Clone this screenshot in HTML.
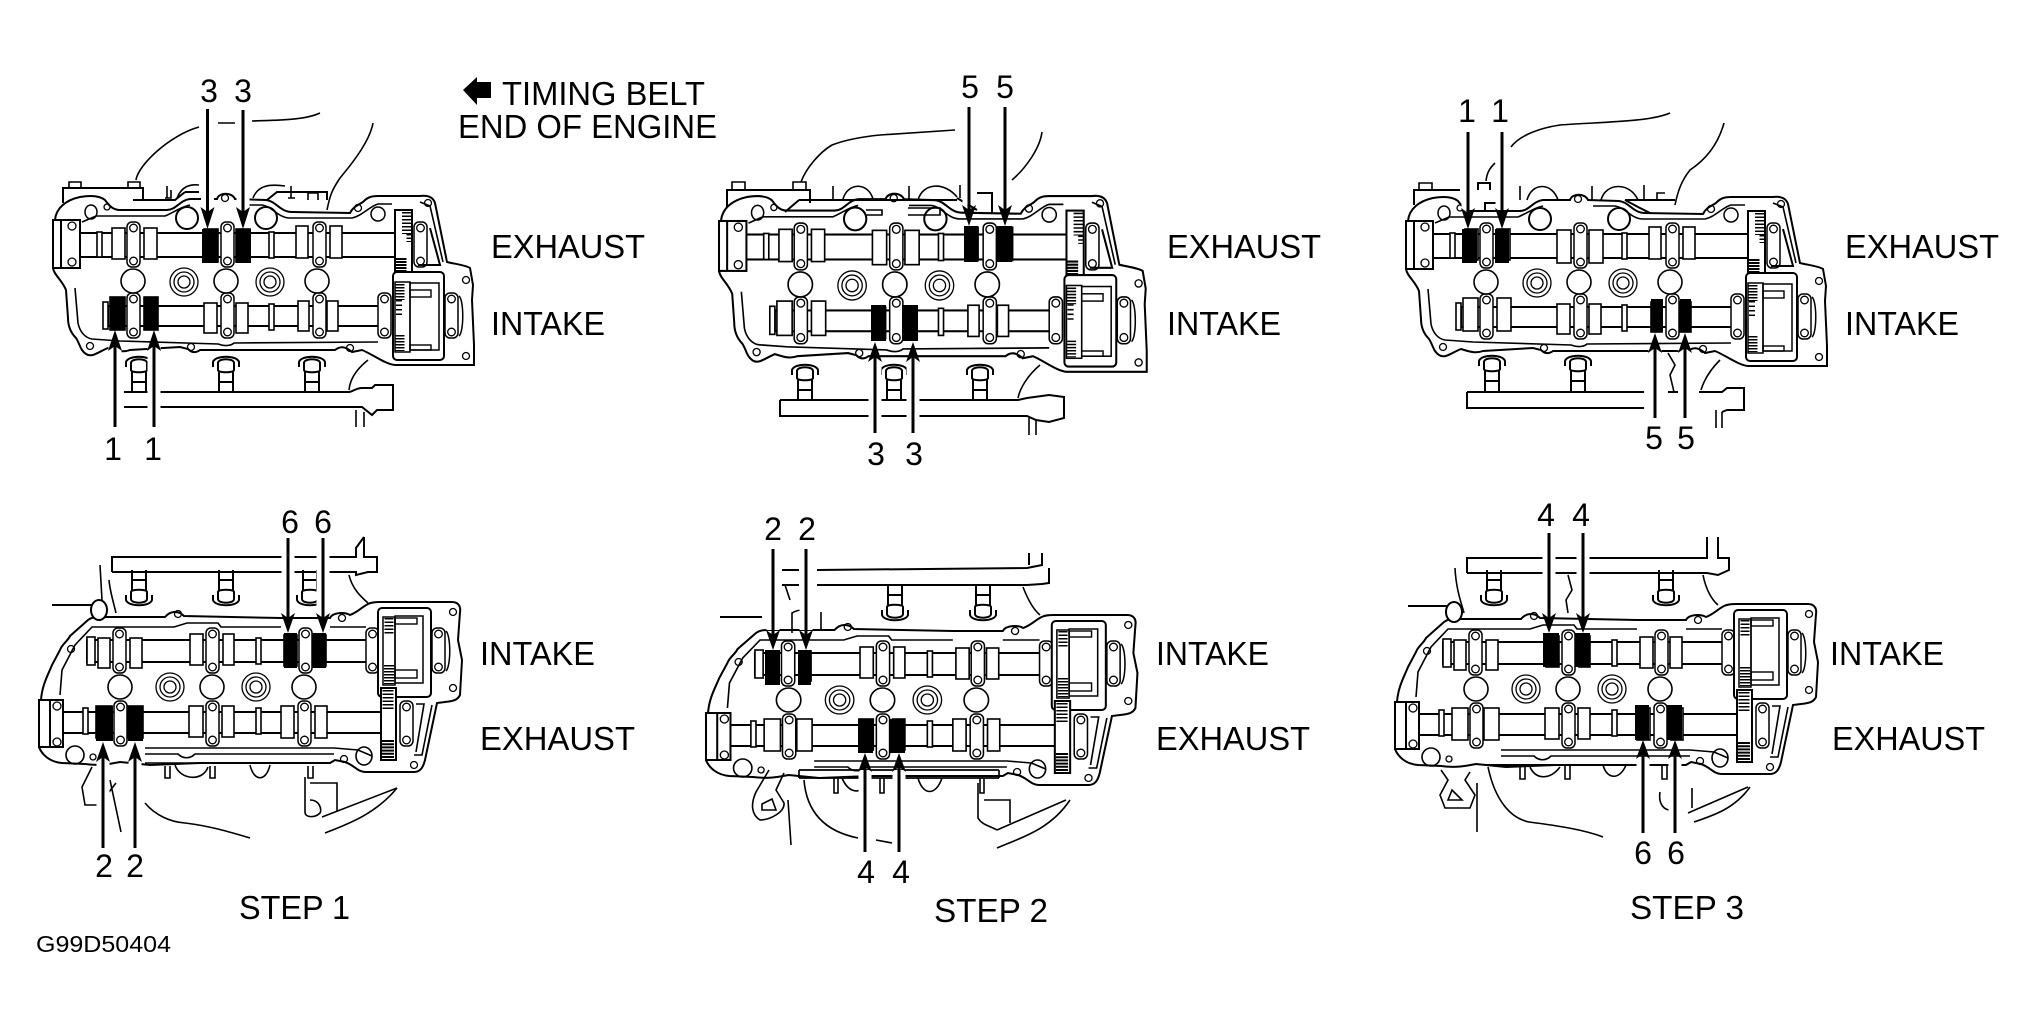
<!DOCTYPE html>
<html><head><meta charset="utf-8"><style>
html,body{margin:0;padding:0;background:#fff}
svg{display:block}
text{font-family:"Liberation Sans",sans-serif;fill:#000;stroke:none}
.d{font-size:32px;text-anchor:middle}
.l{font-size:33px}
.w{fill:#fff}
.k{fill:#000;stroke:none}
</style></head><body>
<svg xmlns="http://www.w3.org/2000/svg" width="2036" height="1028" viewBox="0 0 2036 1028" fill="none" stroke="#000" stroke-width="2">
<rect width="2036" height="1028" fill="#fff" stroke="none"/>
<defs>
<g id="cap" stroke-width="1.5"><rect class="w" x="0" y="0" width="13" height="45" rx="5"/><circle class="w" cx="6.5" cy="6" r="3.8" stroke-width="1.3"/><circle class="w" cx="6.5" cy="39" r="3.8" stroke-width="1.3"/></g>
<g id="conc"><circle r="14" stroke-width="1.3"/><circle r="10" stroke-width="1.3"/><circle r="6" stroke-width="1.3"/></g>
<g id="post"><path d="M-3 12V7C-1 0 21 0 23 7V12"/><path class="w" d="M2 8C2 3 18 3 18 8V15C18 18 2 18 2 15Z"/><path d="M3 17V37M17 17V37M3 27H17"/></g>
<g id="tg">
<path d="M55 220C56 208 66 200 80 197C92 195 100 196 105 200C110 207 114 210 120 210H167C176 210 180 200 190 199H217C219 192 232 192 235 199L266 200C276 201 280 212 292 212L350 213C354 205 360 205 364 201C368 197 372 196 378 196H420C428 195 433 197 435 203L447 262C455 264 465 265 470 268L473 285L472 300L474 345V365H395C385 364 372 354 362 350L352 352C345 346 340 346 335 350L200 350C196 353 192 353 188 349L180 347L130 350C122 353 115 350 108 348C98 352 92 358 86 354C80 350 80 344 76 338C70 332 68 325 68 318L66 290C62 280 54 275 53 268"/>
<path d="M82 222L96 216L165 216C175 212 180 207 190 205M240 205H262C272 206 278 218 290 218H352C362 216 370 206 378 204H392M420 202L430 206L443 262M75 288L78 323C80 333 86 338 92 339L120 341L218 344C226 347 232 345 234 343L378 342" stroke-width="1.6"/>
<ellipse cx="91" cy="212" rx="6" ry="7" stroke-width="1.5"/><ellipse cx="187" cy="218" rx="11" ry="11"/><ellipse cx="266" cy="218" rx="11" ry="11"/><ellipse cx="378" cy="214" rx="7" ry="7" stroke-width="1.5"/>
<circle cx="107" cy="207" r="3" stroke-width="1.3"/><circle cx="225" cy="198" r="3.5" stroke-width="1.3"/><circle cx="358" cy="208" r="3.5" stroke-width="1.3"/><circle cx="428" cy="203" r="3.5" stroke-width="1.3"/><circle cx="466" cy="280" r="3.5" stroke-width="1.3"/><circle cx="466" cy="356" r="3.5" stroke-width="1.3"/><circle cx="90" cy="346" r="3.5" stroke-width="1.3"/><circle cx="191" cy="347" r="3.5" stroke-width="1.3"/><circle cx="350" cy="348" r="3.5" stroke-width="1.3"/>
<rect class="w" x="78" y="233" width="318" height="24"/>
<rect class="w" x="108" y="306" width="272" height="20"/>
<rect class="w" x="53" y="220" width="27" height="48"/><path d="M61 220V268"/><circle class="w" cx="72" cy="226" r="4" stroke-width="1.3"/><circle class="w" cx="72" cy="262" r="4" stroke-width="1.3"/>
<g stroke-width="1.6">
<rect class="w" x="97" y="232" width="5" height="25"/><rect class="w" x="112" y="228" width="13" height="31"/><rect class="w" x="144" y="228" width="13" height="31"/><rect class="w" x="204" y="229" width="14" height="33"/><rect class="w" x="236" y="229" width="14" height="33"/><rect class="w" x="269" y="232" width="5" height="26"/><rect class="w" x="296" y="226" width="12" height="32"/><rect class="w" x="330" y="226" width="12" height="32"/>
<rect class="w" x="103" y="302" width="5" height="27"/><rect class="w" x="110" y="297" width="15" height="33"/><rect class="w" x="144" y="297" width="14" height="33"/><rect class="w" x="204" y="303" width="13" height="30"/><rect class="w" x="236" y="303" width="12" height="30"/><rect class="w" x="269" y="304" width="5" height="26"/><rect class="w" x="298" y="301" width="11" height="30"/><rect class="w" x="327" y="301" width="11" height="30"/>
</g>
<use href="#cap" x="127" y="222"/><use href="#cap" x="221" y="222"/><use href="#cap" x="313" y="222"/>
<use href="#cap" x="127" y="293"/><use href="#cap" x="221" y="293"/><use href="#cap" x="313" y="293"/><use href="#cap" x="378" y="293"/>
<circle class="w" cx="133" cy="281" r="12" stroke-width="1.6"/><circle class="w" cx="226" cy="281" r="12" stroke-width="1.6"/><circle class="w" cx="317" cy="281" r="12" stroke-width="1.6"/>
<use href="#conc" x="184" y="282"/><use href="#conc" x="270" y="282"/>
<rect class="w" x="395" y="210" width="17" height="70"/>
<line x1="407" y1="212" x2="407" y2="234" stroke-width="10" stroke-dasharray="1.5 2"/><line x1="409" y1="234" x2="409" y2="242" stroke-width="5" stroke-dasharray="1.5 2"/><line x1="401" y1="258" x2="401" y2="279" stroke-width="11" stroke-dasharray="2 1"/>
<use href="#cap" x="414" y="222"/><path d="M430 228L440 265H418"/>
<rect class="w" x="393" y="272" width="51" height="88" rx="4"/>
<rect class="w" x="395" y="282" width="15" height="70" stroke-width="1.5"/><rect x="410" y="283" width="29" height="67" stroke-width="1.5"/><rect x="410" y="290" width="21" height="7" stroke-width="1.4"/><rect x="410" y="345" width="21" height="5" stroke-width="1.4"/>
<line x1="400" y1="284" x2="400" y2="300" stroke-width="9" stroke-dasharray="1.5 1.5"/><line x1="399" y1="300" x2="399" y2="318" stroke-width="6" stroke-dasharray="1.5 3"/><line x1="400" y1="335" x2="400" y2="351" stroke-width="9" stroke-dasharray="1.5 1.5"/>
<use href="#cap" x="445" y="293"/><path d="M459 296C464 300 464 332 459 336" stroke-width="1.5"/>
</g>
<g id="tb">
<path d="M41 700C42 685 48 675 52 665L60 650C62 644 67 642 70 636L88 620C92 617 96 617 100 617H165C170 611 178 610 184 616L281 618H330C333 612 345 612 350 615C358 612 362 607 368 604C372 602 376 602 380 602H452C458 602 461 606 460 612L458 640L462 660L460 695C457 701 452 701 445 702L437 703L425 760C423 768 420 772 414 772H365C358 772 354 765 345 762L335 760L330 763H200L150 765L120 762C110 764 100 766 85 764L62 763C50 762 42 755 39 747"/>
<path d="M60 695L62 670L75 645L92 627H174L187 623H218L221 627H281M330 627H366M145 748H334L358 750L372 756M145 754H178C183 759 190 759 195 754H334M414 755H422L432 705" stroke-width="1.6"/>
<ellipse cx="75" cy="755" rx="9" ry="9" stroke-width="1.6"/><ellipse cx="364" cy="756" rx="8" ry="9" stroke-width="1.6"/>
<circle cx="71" cy="649" r="3.5" stroke-width="1.3"/><circle cx="178" cy="614" r="3.5" stroke-width="1.3"/><circle cx="342" cy="618" r="3.5" stroke-width="1.3"/><circle cx="453" cy="612" r="3.5" stroke-width="1.3"/><circle cx="453" cy="688" r="3.5" stroke-width="1.3"/><circle cx="93" cy="757" r="3" stroke-width="1.3"/><circle cx="344" cy="759" r="3.5" stroke-width="1.3"/><circle cx="414" cy="765" r="3.5" stroke-width="1.3"/>
<rect class="w" x="87" y="640" width="280" height="22"/>
<rect class="w" x="63" y="712" width="320" height="21"/>
<rect class="w" x="39" y="700" width="24" height="47"/><path d="M50 700V747"/><circle class="w" cx="57" cy="706" r="4" stroke-width="1.3"/><circle class="w" cx="57" cy="742" r="4" stroke-width="1.3"/>
<g stroke-width="1.6">
<rect class="w" x="87" y="637" width="8" height="28"/><rect class="w" x="98" y="638" width="12" height="30"/><rect class="w" x="130" y="638" width="12" height="30"/><rect class="w" x="190" y="634" width="13" height="31"/><rect class="w" x="223" y="634" width="11" height="31"/><rect class="w" x="256" y="638" width="5" height="26"/><rect class="w" x="284" y="635" width="13" height="31"/><rect class="w" x="314" y="635" width="12" height="31"/>
<rect class="w" x="83" y="708" width="5" height="26"/><rect class="w" x="96" y="706" width="16" height="32"/><rect class="w" x="128" y="706" width="15" height="32"/><rect class="w" x="189" y="706" width="14" height="31"/><rect class="w" x="222" y="706" width="12" height="31"/><rect class="w" x="256" y="708" width="5" height="26"/><rect class="w" x="281" y="706" width="13" height="32"/><rect class="w" x="315" y="706" width="12" height="32"/>
</g>
<use href="#cap" x="113" y="628"/><use href="#cap" x="206" y="628"/><use href="#cap" x="299" y="628"/><use href="#cap" x="366" y="628"/>
<use href="#cap" x="114" y="701"/><use href="#cap" x="206" y="701"/><use href="#cap" x="298" y="701"/>
<circle class="w" cx="120" cy="687" r="12" stroke-width="1.6"/><circle class="w" cx="212" cy="687" r="12" stroke-width="1.6"/><circle class="w" cx="304" cy="687" r="12" stroke-width="1.6"/>
<use href="#conc" x="170" y="687"/><use href="#conc" x="256" y="687"/>
<rect class="w" x="378" y="608" width="53" height="89" rx="4"/>
<rect class="w" x="383" y="617" width="12" height="68" stroke-width="1.5"/><rect x="395" y="616" width="28" height="67" stroke-width="1.5"/><rect x="395" y="618" width="22" height="6" stroke-width="1.4"/><rect x="395" y="670" width="22" height="8" stroke-width="1.4"/>
<line x1="389" y1="618" x2="389" y2="634" stroke-width="9" stroke-dasharray="1.5 2"/><line x1="389" y1="665" x2="389" y2="684" stroke-width="10" stroke-dasharray="1.5 1.5"/>
<use href="#cap" x="432" y="628"/><path d="M446 631C451 636 451 666 446 671" stroke-width="1.5"/>
<rect class="w" x="381" y="688" width="15" height="72"/>
<line x1="388" y1="690" x2="388" y2="710" stroke-width="11" stroke-dasharray="1.5 2"/><line x1="388" y1="740" x2="388" y2="759" stroke-width="12" stroke-dasharray="2 1.2"/>
<use href="#cap" x="400" y="701"/><path d="M416 704H424L416 752" stroke-width="1.6"/>
</g>
</defs>

<!-- gaskets -->
<use href="#tg"/>
<use href="#tg" transform="translate(719 195) scale(1.016 1.04) translate(-53 -195)"/>
<use href="#tg" transform="translate(1353 1)"/>
<use href="#tb"/>
<use href="#tb" transform="translate(706 615) scale(1.02 1) translate(-39 -602)"/>
<use href="#tb" transform="translate(1356 2)"/>

<!-- panel 1 surroundings -->
<path stroke-width="1.6" d="M136 180C138 165 170 135 199 127M218 123H235M252 121C280 120 305 120 320 113M373 123C370 140 355 160 340 178C332 190 330 195 327 210"/>
<path d="M63 203V188H143V200M133 200H175L185 192M185 192H199M267 200L277 192H327V200"/>
<path stroke-width="1.6" d="M69 188V182H81V188M128 188V182H140V188M167 198V186M165 198H171V190M177 198C182 186 190 184 199 185M253 198C258 185 270 184 285 186M291 198V186M288 198H295M308 200V193H318V200"/>
<use href="#post" x="129" y="355"/><use href="#post" x="216" y="355"/><use href="#post" x="302" y="355"/>
<path d="M124 392H349C352 392 356 388 362 388H372L375 385H393V410H377L372 415L362 407H349H124"/>
<path stroke-width="1.6" d="M368 360C358 368 350 378 349 390M356 410V427M364 412V427"/>

<!-- panel 2 surroundings -->
<path stroke-width="1.6" d="M801 182C806 168 820 152 832 145C845 140 860 137 880 135L955 130M1042 132C1040 148 1026 168 1012 180"/>
<path d="M727 207V190H810V203M799 200H957M799 200L785 212M957 198L977 210M977 193H992V213"/>
<path stroke-width="1.6" d="M732 190V182H745V190M793 190V182H806V190M833 199V186M843 199C848 182 868 182 873 199M909 200V186M918 200C923 182 945 182 957 197M960 198V185M866 210H882V215H866M908 208H940V215H908"/>
<use href="#post" x="795" y="363"/><use href="#post" x="884" y="363"/><use href="#post" x="970" y="363"/>
<path d="M780 400V416H1027L1036 420L1049 422L1064 418V397L1049 395L1027 398L1018 400H780"/>
<path stroke-width="1.6" d="M1040 365C1028 375 1020 388 1018 398M1029 418V435M1036 420V435"/>

<!-- panel 3 surroundings -->
<path stroke-width="1.6" d="M1511 147C1520 135 1540 128 1560 125C1600 122 1650 122 1670 113M1495 163C1490 168 1487 172 1486 181M1724 123C1718 145 1705 160 1690 170C1682 180 1678 190 1675 205"/>
<path d="M1414 205V190H1460M1478 190V183H1490V190M1625 200H1675M1625 200L1638 207L1650 213M1496 203H1485V212"/>
<path stroke-width="1.6" d="M1419 190V183H1432V190M1520 200V186M1527 200C1532 182 1552 182 1558 200M1592 200V186M1601 200C1606 182 1630 182 1638 200M1644 200V185M1657 200V193H1665"/>
<use href="#post" x="1482" y="354"/><use href="#post" x="1568" y="354"/>
<path d="M1467 392V408H1644M1467 392H1644M1699 392H1722L1727 388H1744V410H1727L1722 412M1668 392H1678"/>
<path stroke-width="1.6" d="M1720 360C1710 370 1704 380 1701 390M1716 410V428M1722 412V428M1668 353L1675 365L1670 375L1674 392"/>

<!-- panel 4 surroundings -->
<path d="M112 572V557H356V548L364 537M364 537V557H377V572H368L356 575V572H112M52 605H92"/>
<path stroke-width="1.6" d="M100 565L102 600M109 580C110 592 114 604 116 613M349 575C352 588 360 596 368 603"/>
<ellipse class="w" cx="99" cy="610" rx="8" ry="10"/>
<use href="#post" transform="translate(129 607) scale(1 -1)" /><use href="#post" transform="translate(216 607) scale(1 -1)"/><use href="#post" transform="translate(300 607) scale(1 -1)"/>
<path stroke-width="1.6" d="M165 766V778H170V766M210 766V778H215V766M308 766V778H313V766M175 765C180 780 203 782 208 767M250 765C254 782 266 782 270 765M145 763H325M305 777V812C305 818 315 818 320 813C322 810 320 800 310 800M310 783H337V812M322 817L397 788M325 833C345 825 375 815 397 788M145 803C155 815 170 822 185 823C210 826 230 832 250 838M92 767L82 787L85 805H99L116 783M110 780L121 832"/>

<!-- panel 5 surroundings -->
<path d="M782 570H799M817 570L1027 568L1042 565V553M1029 553V565M1049 568V583L1042 584L1027 585H817M782 585H799M720 617H762"/>
<path stroke-width="1.6" d="M1023 587C1028 600 1034 610 1040 615M785 585L790 600M792 633V613C800 608 812 610 812 610M821 612V630"/>
<use href="#post" transform="translate(885 622) scale(1 -1)"/><use href="#post" transform="translate(973 622) scale(1 -1)"/>
<path stroke-width="1.7" d="M799 770H999M799 778H999M799 770V778M999 770V778"/>
<path stroke-width="1.6" d="M834 778V793H838V778M880 778V793H884V778M980 778V793H984V778M804 780C806 805 818 830 858 838M876 840L892 843M842 778C848 792 858 795 868 785M918 778C923 796 936 796 942 778M978 783V818C982 825 990 826 997 830M984 800H1010V823M997 830L1066 800M997 848C1020 838 1050 830 1070 800M769 770L756 792C750 805 752 815 760 820C770 820 785 812 784 803L776 790L784 773M788 800L791 845M762 804L772 799L776 810H762Z"/>

<!-- panel 6 surroundings -->
<path d="M1467 573V558H1707V537M1718 537V558H1729V570L1718 575L1707 573H1467M1408 606H1447"/>
<path stroke-width="1.6" d="M1455 568C1456 590 1462 605 1464 613M1703 575C1706 590 1712 600 1718 605M1568 575L1572 590L1566 600L1568 613"/>
<ellipse class="w" cx="1454" cy="612" rx="8" ry="10"/>
<use href="#post" transform="translate(1484 607) scale(1 -1)"/><use href="#post" transform="translate(1656 607) scale(1 -1)"/>
<path d="M1486 765H1638"/>
<path stroke-width="1.6" d="M1520 765V779H1525V765M1565 765V779H1570V765M1662 765V779H1667V765M1530 767C1536 780 1550 780 1560 767M1603 765C1607 780 1620 780 1626 765M1488 767C1495 800 1510 818 1529 822C1560 826 1585 830 1603 837M1660 792C1658 805 1665 810 1670 810M1692 788V808M1688 813L1748 787M1694 822C1715 815 1735 808 1750 787M1441 770L1448 780L1440 795L1445 808H1470L1475 795L1465 780L1470 772M1452 790L1462 800H1448ZM1477 783V832"/>

<!-- arrow halos -->
<path stroke="#fff" stroke-width="13" d="M207.5 120V210M243 120V210M115 420V345M154 420V345M969 120V205M1005 120V205M875 425V360M913 425V360M1468 140V210M1502 140V210M1655 410V350M1685 410V350M288 540V615M323 540V615M103 840V760M135 840V760M773 555V630M806 555V630M865 845V770M899 845V770M1549 540V613M1583 540V613M1643 825V760M1675 825V760"/>

<!-- black blocks -->
<g class="k" fill="#000">
<rect x="202" y="229" width="16" height="34"/><rect x="236" y="229" width="15" height="34"/><rect x="110" y="297" width="15" height="33"/><rect x="144" y="297" width="14" height="33"/>
<rect x="964" y="226" width="14" height="36"/><rect x="997" y="226" width="15" height="36"/><rect x="871" y="305" width="15" height="36"/><rect x="902" y="305" width="16" height="36"/>
<rect x="1462" y="229" width="15" height="34"/><rect x="1495" y="229" width="14" height="34"/><rect x="1651" y="299" width="12" height="33"/><rect x="1680" y="299" width="11" height="33"/>
<rect x="284" y="633" width="13" height="35"/><rect x="312" y="633" width="14" height="35"/><rect x="96" y="706" width="17" height="35"/><rect x="128" y="706" width="15" height="35"/>
<rect x="765" y="650" width="15" height="35"/><rect x="798" y="650" width="13" height="35"/><rect x="858" y="719" width="15" height="34"/><rect x="890" y="719" width="15" height="34"/>
<rect x="1543" y="633" width="16" height="34"/><rect x="1575" y="633" width="15" height="34"/><rect x="1635" y="705" width="14" height="35"/><rect x="1667" y="705" width="15" height="35"/>
</g>

<!-- arrows -->
<path stroke-width="3" d="M207.5 109V215M243 110V215M115 427V345M154 427V345M969 107V212M1005 107V212M875 433V356M913 433V356M1468 132V215M1502 132V215M1655 418V347M1685 418V347M288 538V620M323 538V620M103 848V756M135 848V756M773 549V637M806 549V637M865 852V767M899 852V767M1549 533V620M1583 533V620M1643 833V754M1675 833V754"/>
<g class="k" fill="#000">
<path d="M207.5 229l7-22-7 5-7-5zM243 229l7-22-7 5-7-5zM969 226l7-21-7 5-7-5zM1005 226l7-21-7 5-7-5zM1468 229l7-21-7 5-7-5zM1502 229l7-21-7 5-7-5zM288 633l7-20-7 5-7-5zM323 633l7-20-7 5-7-5zM773 650l7-20-7 5-7-5zM806 650l7-20-7 5-7-5zM1549 633l7-20-7 5-7-5zM1583 633l7-20-7 5-7-5z"/>
<path d="M115 330l7 21-7-5-7 5zM154 330l7 21-7-5-7 5zM875 342l7 20-7-5-7 5zM913 342l7 20-7-5-7 5zM1655 333l7 20-7-5-7 5zM1685 333l7 20-7-5-7 5zM103 742l7 20-7-5-7 5zM135 742l7 20-7-5-7 5zM865 753l7 19-7-5-7 5zM899 753l7 19-7-5-7 5zM1643 740l7 19-7-5-7 5zM1675 740l7 19-7-5-7 5z"/>
<polygon points="463,90 477,77 477,82 491,82 491,98 477,98 477,105"/>
</g>

<!-- number labels -->
<text class="d" x="209" y="102">3</text><text class="d" x="243" y="102">3</text>
<text class="d" x="113" y="460">1</text><text class="d" x="153" y="460">1</text>
<text class="d" x="970" y="98">5</text><text class="d" x="1005" y="98">5</text>
<text class="d" x="876" y="465">3</text><text class="d" x="914" y="465">3</text>
<text class="d" x="1467" y="122">1</text><text class="d" x="1500" y="122">1</text>
<text class="d" x="1654" y="449">5</text><text class="d" x="1686" y="449">5</text>
<text class="d" x="290" y="533">6</text><text class="d" x="323" y="533">6</text>
<text class="d" x="104" y="877">2</text><text class="d" x="135" y="877">2</text>
<text class="d" x="773" y="540">2</text><text class="d" x="807" y="540">2</text>
<text class="d" x="866" y="883">4</text><text class="d" x="901" y="883">4</text>
<text class="d" x="1546" y="526">4</text><text class="d" x="1581" y="526">4</text>
<text class="d" x="1643" y="864">6</text><text class="d" x="1676" y="864">6</text>

<!-- text labels -->
<text class="l" x="502" y="105" textLength="203" lengthAdjust="spacingAndGlyphs">TIMING BELT</text>
<text class="l" x="458" y="138" textLength="259" lengthAdjust="spacingAndGlyphs">END OF ENGINE</text>
<text class="l" x="491" y="258" textLength="154" lengthAdjust="spacingAndGlyphs">EXHAUST</text>
<text class="l" x="491" y="335" textLength="114" lengthAdjust="spacingAndGlyphs">INTAKE</text>
<text class="l" x="1167" y="258" textLength="154" lengthAdjust="spacingAndGlyphs">EXHAUST</text>
<text class="l" x="1167" y="335" textLength="114" lengthAdjust="spacingAndGlyphs">INTAKE</text>
<text class="l" x="1845" y="258" textLength="154" lengthAdjust="spacingAndGlyphs">EXHAUST</text>
<text class="l" x="1845" y="335" textLength="114" lengthAdjust="spacingAndGlyphs">INTAKE</text>
<text class="l" x="480" y="665" textLength="115" lengthAdjust="spacingAndGlyphs">INTAKE</text>
<text class="l" x="480" y="750" textLength="155" lengthAdjust="spacingAndGlyphs">EXHAUST</text>
<text class="l" x="1156" y="665" textLength="113" lengthAdjust="spacingAndGlyphs">INTAKE</text>
<text class="l" x="1156" y="750" textLength="154" lengthAdjust="spacingAndGlyphs">EXHAUST</text>
<text class="l" x="1830" y="665" textLength="114" lengthAdjust="spacingAndGlyphs">INTAKE</text>
<text class="l" x="1832" y="750" textLength="153" lengthAdjust="spacingAndGlyphs">EXHAUST</text>
<text class="l" x="239" y="919" textLength="111" lengthAdjust="spacingAndGlyphs">STEP 1</text>
<text class="l" x="934" y="922" textLength="114" lengthAdjust="spacingAndGlyphs">STEP 2</text>
<text class="l" x="1630" y="919" textLength="114" lengthAdjust="spacingAndGlyphs">STEP 3</text>
<text x="36" y="952" font-size="23" textLength="135" lengthAdjust="spacingAndGlyphs">G99D50404</text>
</svg>
</body></html>
